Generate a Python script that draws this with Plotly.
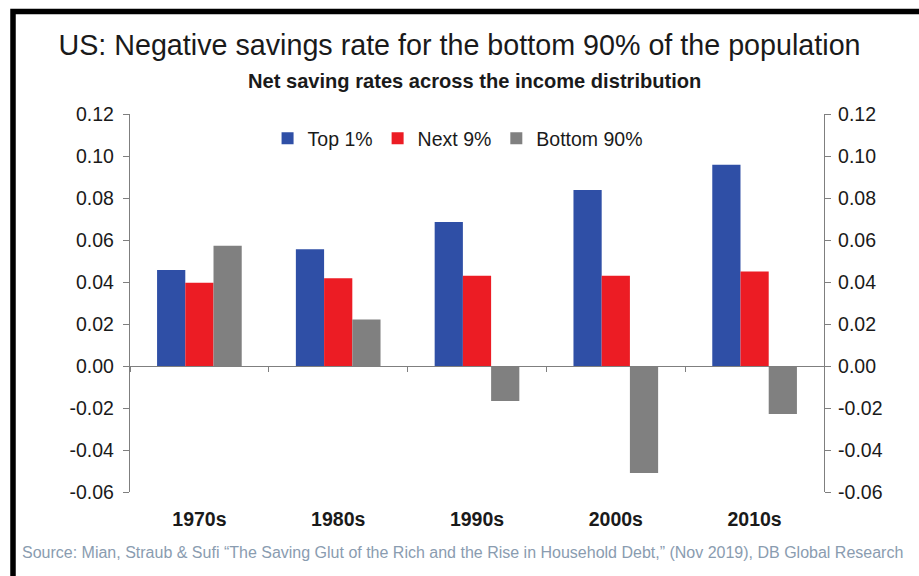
import plotly.graph_objects as go

# Decades on the x axis
decades = ["1970s", "1980s", "1990s", "2000s", "2010s"]

# Net saving rates by income group
top_1 = [0.0457, 0.0556, 0.0686, 0.0838, 0.0958]
next_9 = [0.0397, 0.0418, 0.0430, 0.0430, 0.0450]
bottom_90 = [0.0573, 0.0222, -0.0167, -0.0510, -0.0229]

y_ticks = [0.12, 0.10, 0.08, 0.06, 0.04, 0.02, 0.00, -0.02, -0.04, -0.06]
y_tick_text = [f"{v:.2f}" for v in y_ticks]

FONT = "Liberation Sans, Arial, sans-serif"
AXIS_GRAY = "#7f7f7f"
TEXT = "#1a1a1a"

fig = go.Figure()
fig.add_trace(go.Bar(name="Top 1%", x=decades, y=top_1, marker_color="#2f4fa6",
                     marker_line_width=0))
fig.add_trace(go.Bar(name="Next 9%", x=decades, y=next_9, marker_color="#ec1c24",
                     marker_line_width=0))
fig.add_trace(go.Bar(name="Bottom 90%", x=decades, y=bottom_90, marker_color="#808080",
                     marker_line_width=0))

# Helper trace so the zero-line axis and the right-hand axis are drawn
fig.add_trace(go.Scatter(x=decades, y=[None] * len(decades), xaxis="x2", yaxis="y2",
                         mode="markers", showlegend=False, hoverinfo="skip"))

fig.update_layout(
    width=919,
    height=576,
    margin=dict(l=130, r=95, t=114, b=84),
    paper_bgcolor="white",
    plot_bgcolor="white",
    barmode="group",
    bargap=0.39,
    bargroupgap=0,
    font=dict(family=FONT, color=TEXT),
    showlegend=True,
    legend=dict(
        orientation="h",
        x=0.472, xanchor="center",
        y=0.935, yanchor="middle",
        font=dict(size=19.5, family=FONT, color=TEXT),
        bgcolor="rgba(0,0,0,0)",
        itemwidth=30,
        traceorder="normal",
    ),
    title=dict(
        text="US: Negative savings rate for the bottom 90% of the population",
        x=0.5, xref="container", xanchor="center",
        y=1 - 45 / 576, yref="container", yanchor="middle",
        font=dict(size=28.7, family=FONT, color=TEXT),
    ),
    xaxis=dict(
        range=[-0.5, 4.5],
        showline=False,
        showgrid=False,
        zeroline=False,
        ticks="",
        tickfont=dict(size=19.5, family=FONT, color=TEXT, weight="bold"),
        ticklabelstandoff=13,
    ),
    xaxis2=dict(
        overlaying="x",
        matches="x",
        anchor="free",
        position=(0 - (-0.06)) / 0.18,
        showticklabels=False,
        showline=True,
        linecolor=AXIS_GRAY,
        linewidth=1.3,
        ticks="outside",
        tickson="boundaries",
        ticklen=5,
        tickcolor=AXIS_GRAY,
        showgrid=False,
        zeroline=False,
    ),
    yaxis=dict(
        range=[-0.06, 0.12],
        tickvals=y_ticks,
        ticktext=y_tick_text,
        showline=True,
        linecolor=AXIS_GRAY,
        linewidth=1.3,
        ticks="outside",
        ticklen=6,
        tickcolor=AXIS_GRAY,
        showgrid=False,
        zeroline=False,
        tickfont=dict(size=19.5, family=FONT, color=TEXT),
        ticklabelstandoff=5,
    ),
    yaxis2=dict(
        overlaying="y",
        matches="y",
        side="right",
        anchor="x",
        tickvals=y_ticks,
        ticktext=y_tick_text,
        showline=True,
        linecolor=AXIS_GRAY,
        linewidth=1.3,
        ticks="outside",
        ticklen=6,
        tickcolor=AXIS_GRAY,
        showgrid=False,
        zeroline=False,
        tickfont=dict(size=19.5, family=FONT, color=TEXT),
        ticklabelstandoff=3,
    ),
)

# Subtitle and source line
fig.add_annotation(
    text="<b>Net saving rates across the income distribution</b>",
    xref="paper", yref="paper",
    x=(474.5 - 130) / 694, y=(492 - 81) / 378,
    xanchor="center", yanchor="middle",
    showarrow=False,
    font=dict(size=20.1, family=FONT, color=TEXT),
)
fig.add_annotation(
    text="Source: Mian, Straub & Sufi \u201cThe Saving Glut of the Rich and the Rise in Household Debt,\u201d (Nov 2019), DB Global Research",
    xref="paper", yref="paper",
    x=(20 - 130) / 694, y=(492 - 552) / 378,
    xanchor="left", yanchor="middle",
    showarrow=False,
    font=dict(size=16.0, family=FONT, color="#8a9cb0"),
)

# Heavy black frame around the whole chart
fig.add_shape(
    type="rect",
    xref="paper", yref="paper",
    x0=(13 - 130) / 694, x1=(940 - 130) / 694,
    y0=(492 - 620) / 378, y1=(492 - 11.5) / 378,
    line=dict(color="black", width=5.5),
    fillcolor="rgba(0,0,0,0)",
    layer="above",
)

fig.write_html("out.html")
